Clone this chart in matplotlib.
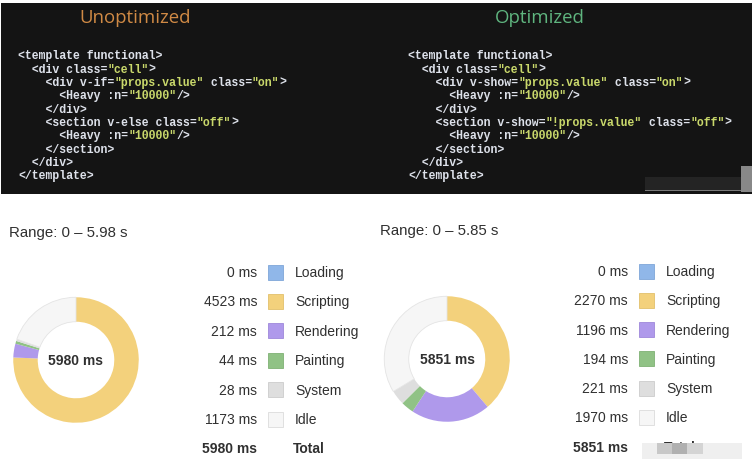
import re
import matplotlib
matplotlib.use("Agg")
from matplotlib import pyplot as plt
from matplotlib.patches import Rectangle

# data
categories = ["Loading", "Scripting", "Rendering", "Painting", "System", "Idle"]
colors = ["#90b7e9", "#f3d17c", "#af99eb", "#90c285", "#dedede", "#f6f6f6"]
edge_colors = ["#7fa6d8", "#e2c06b", "#9e88da", "#7fb174", "#cccccc", "#dcdcdc"]
unopt_ms = [0, 4523, 212, 44, 28, 1173]
opt_ms = [0, 2270, 1196, 194, 221, 1970]
unopt_total = 5980
opt_total = 5851
unopt_range = "Range: 0 \u2013 5.98 s"
opt_range = "Range: 0 \u2013 5.85 s"

code_unopt = [
    '<template functional>',
    '  <div class="cell">',
    '    <div v-if="props.value" class="on">',
    '      <Heavy :n="10000"/>',
    '    </div>',
    '    <section v-else class="off">',
    '      <Heavy :n="10000"/>',
    '    </section>',
    '  </div>',
    '</template>',
]
code_opt = [
    '<template functional>',
    '  <div class="cell">',
    '    <div v-show="props.value" class="on">',
    '      <Heavy :n="10000"/>',
    '    </div>',
    '    <section v-show="!props.value" class="off">',
    '      <Heavy :n="10000"/>',
    '    </section>',
    '  </div>',
    '</template>',
]

W, H = 752, 460
fig = plt.figure(figsize=(W / 100, H / 100), dpi=100)
bg = fig.add_axes([0, 0, 1, 1])
bg.set_xlim(0, W)
bg.set_ylim(H, 0)
bg.axis("off")

# dark code panel
bg.add_patch(Rectangle((1, 4), W - 1, 191, color="#141414", lw=0))
# watermark bits
bg.add_patch(Rectangle((645, 178), 96, 13, color="#242424", lw=0))
bg.add_patch(Rectangle((645, 191), 96, 1.2, color="#7a7a7a", lw=0))
bg.add_patch(Rectangle((741, 167), 11, 26, color="#888888", lw=0))

bg.text(135, 18, "Unoptimized", color="#d08a45", fontsize=13.4,
        family="Open Sans", ha="center", va="center")
bg.text(540, 18, "Optimized", color="#5fb57f", fontsize=13.4,
        family="Open Sans", ha="center", va="center")

CHAR_W = 6.88
LINE_Y0 = 56.5
LINE_STEP = 13.3


def draw_code(lines, x0):
    for i, line in enumerate(lines):
        y = LINE_Y0 + i * LINE_STEP
        pos = 0
        for m in re.finditer(r'"[^"]*"', line):
            if m.start() > pos:
                bg.text(x0 + pos * CHAR_W, y, line[pos:m.start()], color="#dde1ea",
                        fontsize=8.3, family="Liberation Mono", weight="bold",
                        va="center", ha="left")
            bg.text(x0 + m.start() * CHAR_W, y, m.group(), color="#c9d86b",
                    fontsize=8.3, family="Liberation Mono", weight="bold",
                    va="center", ha="left")
            pos = m.end()
        if pos < len(line):
            bg.text(x0 + pos * CHAR_W, y, line[pos:], color="#dde1ea",
                    fontsize=8.3, family="Liberation Mono", weight="bold",
                    va="center", ha="left")


draw_code(code_unopt, 18)
draw_code(code_opt, 408)

TXT = "#303030"


def draw_panel(values, total, rng, rng_x, rng_y, cx, cy, val_x, sw_x, lab_x, row_y0, row_step):
    bg.text(rng_x, rng_y, rng, fontsize=10.8, family="Liberation Sans",
            color=TXT, va="center", ha="left")
    for i, (cat, v, c, ec) in enumerate(zip(categories, values, colors, edge_colors)):
        y = row_y0 + i * row_step
        bg.text(val_x, y, f"{v} ms", fontsize=10, family="Liberation Sans",
                color=TXT, va="center", ha="right")
        bg.add_patch(Rectangle((sw_x, y - 7.5), 15, 15, facecolor=c,
                               edgecolor=ec, lw=0.6))
        bg.text(lab_x, y, cat, fontsize=10, family="Liberation Sans",
                color=TXT, va="center", ha="left")
    y = row_y0 + 6 * row_step
    bg.text(val_x, y, f"{total} ms", fontsize=10, family="Liberation Sans",
            weight="bold", color=TXT, va="center", ha="right")
    bg.text(lab_x - 2, y, "Total", fontsize=10, family="Liberation Sans",
            weight="bold", color=TXT, va="center", ha="left")

    r = 64
    ax = fig.add_axes([(cx - r) / W, (H - cy - r) / H, 2 * r / W, 2 * r / H])
    wedges, _ = ax.pie(values, colors=colors, startangle=90, counterclock=False,
                       radius=1, wedgeprops=dict(width=0.39, linewidth=0))
    wedges[-1].set_edgecolor("#e4e4e4")
    wedges[-1].set_linewidth(0.6)
    ax.set_xlim(-1.02, 1.02)
    ax.set_ylim(-1.02, 1.02)
    ax.set_aspect("equal")
    ax.axis("off")
    ax.text(0, 0, f"{total} ms", fontsize=10, family="Liberation Sans",
            weight="bold", color=TXT, ha="center", va="center")


draw_panel(unopt_ms, unopt_total, unopt_range, 9, 233, 76, 361,
           257, 268, 295, 273, 29.4)
draw_panel(opt_ms, opt_total, opt_range, 380, 231, 447, 360,
           628, 639, 666, 272, 29.3)

# watermark over bottom-right "Total"
bg.add_patch(Rectangle((642, 444), 100, 16, color="#efefef", lw=0, zorder=5))
bg.add_patch(Rectangle((657, 444), 15, 11, color="#c8c8c8", lw=0, zorder=6))
bg.add_patch(Rectangle((672, 444), 15, 11, color="#b0b0b0", lw=0, zorder=6))
bg.add_patch(Rectangle((687, 444), 16, 11, color="#d4d4d4", lw=0, zorder=6))

fig.savefig("out.png", dpi=100)
